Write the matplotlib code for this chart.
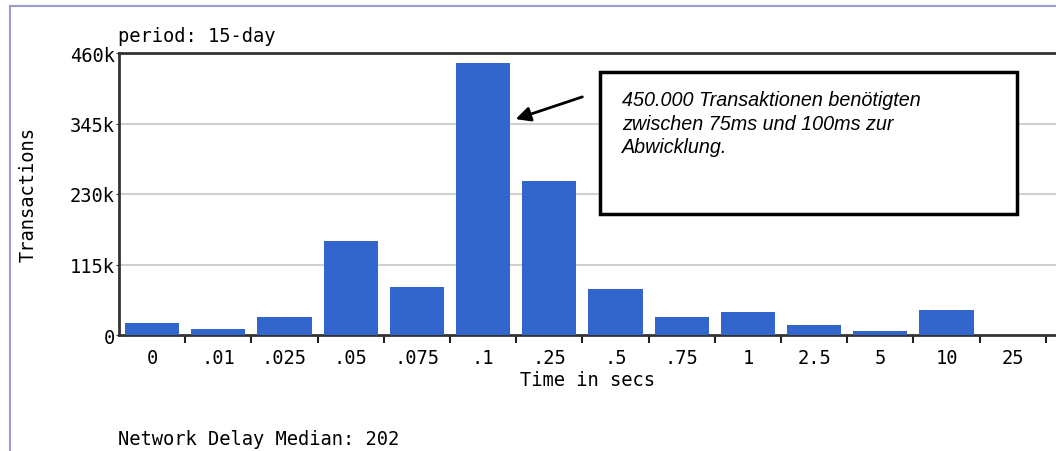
import matplotlib.pyplot as plt
from matplotlib.lines import Line2D
from matplotlib.patches import Rectangle

# Data
buckets = ["0", ".01", ".025", ".05", ".075", ".1", ".25", ".5", ".75", "1", "2.5", "5", "10", "25"]
transactions = [20000, 10500, 30000, 153000, 78000, 444000, 251000, 75000, 30000, 37000, 17000, 7000, 40000, 0]
y_ticks = [0, 115000, 230000, 345000, 460000]
y_labels = ["0", "115k", "230k", "345k", "460k"]

mono = "DejaVu Sans Mono"
fs = 13.5

fig = plt.figure(figsize=(10.56, 4.52), dpi=100)
W, H = 1056, 452

# axes: left edge at x=119px, top at y=54px, bottom at y=336px, running off the right side
ax = fig.add_axes([119 / W, 1 - 336 / H, (1056 - 119) / W, (336 - 54) / H])

x = list(range(len(buckets)))
ax.bar(x, transactions, width=0.82, color="#3366cc", zorder=3)

ax.set_xlim(-0.5, -0.5 + (1056 - 119) / 66.2)
ax.set_ylim(0, 460000)

# y axis
ax.set_yticks(y_ticks)
ax.set_yticklabels(y_labels, fontfamily=mono, fontsize=fs)
ax.tick_params(axis="y", length=2, pad=1, color="#333333")
for v in y_ticks[1:-1]:
    ax.axhline(v, color="#d0d0d0", linewidth=1.5, zorder=1)

# x axis: labels at centers, tick marks at category boundaries
ax.set_xticks(x)
ax.set_xticklabels(buckets, fontfamily=mono, fontsize=fs)
ax.tick_params(axis="x", which="major", length=0, pad=9)
ax.set_xticks([i + 0.5 for i in x], minor=True)
ax.tick_params(axis="x", which="minor", length=6, width=1.5, color="#222222")

for s in ["left", "bottom", "top"]:
    ax.spines[s].set_color("#333333")
    ax.spines[s].set_linewidth(2)
ax.spines["right"].set_visible(False)

ax.set_xlabel("Time in secs", fontfamily=mono, fontsize=fs, labelpad=0)
ax.xaxis.set_label_coords((588 - 119) / (1056 - 119), -0.125)
ax.set_ylabel("Transactions", fontfamily=mono, fontsize=fs)
ax.yaxis.set_label_coords(-(119 - 38) / (1056 - 119), 0.5)

# texts around the plot
fig.text(118 / W, 1 - 36 / H, "period: 15-day", fontfamily=mono, fontsize=fs, va="center", ha="left")
fig.text(118 / W, 1 - 440 / H, "Network Delay Median: 202", fontfamily=mono, fontsize=fs, va="center", ha="left")

# lavender frame on the left and top
fig.add_artist(Line2D([10 / W, 10 / W], [0, 1 - 7 / H], color="#9b9bd0", linewidth=1.5))
fig.add_artist(Line2D([10 / W, 1], [1 - 7 / H, 1 - 7 / H], color="#9b9bd0", linewidth=1.5))

# annotation box
fig.add_artist(Rectangle((600 / W, 1 - 215 / H), (1017 - 600) / W, (215 - 73) / H,
                         facecolor="white", edgecolor="black", linewidth=2.5, zorder=5))
fig.text(622 / W, 1 - 91 / H,
         "450.000 Transaktionen benötigten\nzwischen 75ms und 100ms zur\nAbwicklung.",
         fontfamily="Liberation Sans", style="italic", fontsize=14.2, va="top", ha="left",
         linespacing=1.3, zorder=6)

# arrow pointing to the .1 bar
ax.annotate("", xy=(513 / W, 1 - 121 / H), xytext=(585 / W, 1 - 97 / H),
            xycoords="figure fraction", textcoords="figure fraction",
            arrowprops=dict(arrowstyle="-|>", color="black", linewidth=2, mutation_scale=22))

plt.savefig("out.png", dpi=100)
